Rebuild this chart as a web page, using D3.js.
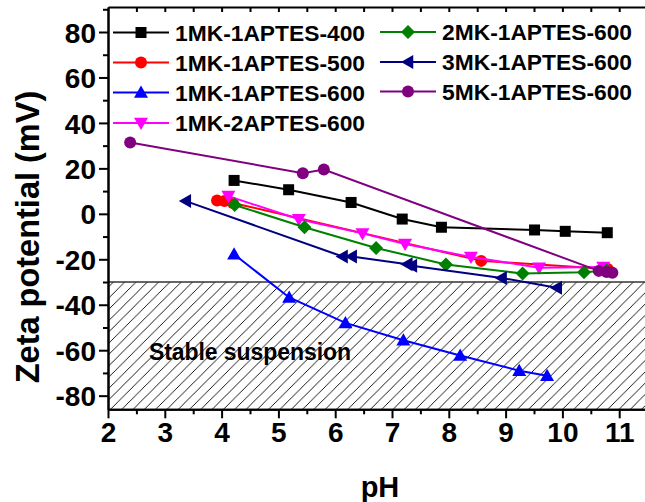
<!DOCTYPE html>
<html><head><meta charset="utf-8">
<script src="https://cdn.jsdelivr.net/npm/d3@7"></script>
<style>body{margin:0;background:#fff}svg{display:block;font-family:"Liberation Sans",Arial,sans-serif;font-weight:bold}</style>
</head><body>
<svg id="c" width="645" height="502"></svg>
<script>
// ---- data ----
const seriesNames = ["1MK-1APTES-400","1MK-1APTES-500","1MK-1APTES-600","1MK-2APTES-600","2MK-1APTES-600","3MK-1APTES-600","5MK-1APTES-600"];
const s400 = [[4.22,14.7],[5.18,10.6],[6.28,5.0],[7.18,-2.3],[7.87,-5.9],[9.51,-7.1],[10.05,-7.7],[10.79,-8.3]];
const s500 = [[3.92,5.9],[4.05,5.6],[4.2,4.8],[8.57,-20.7],[10.8,-24.3]];
const s600 = [[4.22,-17.8],[5.19,-36.8],[6.18,-48.0],[7.2,-55.6],[8.2,-62.3],[9.24,-69.0],[9.73,-71.2]];
const s2apt = [[4.12,7.8],[5.36,-2.4],[6.48,-8.6],[7.23,-13.3],[8.39,-19.0],[9.59,-23.7],[10.72,-23.4]];
const s2mk = [[4.23,3.9],[5.46,-5.9],[6.72,-15.0],[7.95,-22.3],[9.30,-26.3],[10.38,-25.7],[10.78,-24.9]];
const s3mk = [[3.37,5.6],[6.13,-18.8],[6.29,-18.8],[7.27,-22.2],[7.35,-22.8],[8.93,-28.2],[9.9,-32.5]];
const s5mk = [[2.39,31.4],[5.43,17.9],[5.80,19.5],[10.64,-25.1],[10.78,-25.6],[10.88,-25.9]];
const seriesData = [s400,s500,s600,s2apt,s2mk,s3mk,s5mk];
const seriesColors = ["#000000","#ff0000","#0000ff","#ff00ff","#008000","#000080","#800080"];
const seriesShapes = ["square","circle","up","down","diamond","left","circle"];
const xTicks = [2,3,4,5,6,7,8,9,10,11];
const yTicks = [-80,-60,-40,-20,0,20,40,60,80];
const stableLimit = -30;
const stableLabel = "Stable suspension";
const xTitle = "pH", yTitle = "Zeta potential (mV)";

// ---- layout ----
const svg = d3.select("#c");
const L = 108, R = 676, T = 7, B = 409.3;
const x = d3.scaleLinear().domain([2,12]).range([L,R]);
const y = d3.scaleLinear().domain([-86,91]).range([B,T]);

// hatch pattern
const defs = svg.append("defs");
const pat = defs.append("pattern").attr("id","hatch").attr("patternUnits","userSpaceOnUse")
  .attr("width",11.3).attr("height",11.3);
pat.append("path").attr("d","M-1,12.3 L12.3,-1 M-3,3 L3,-3 M8.3,14.3 L14.3,8.3").attr("stroke","#000").attr("stroke-width",0.9);
svg.append("rect").attr("x",L).attr("y",y(stableLimit)).attr("width",R-L).attr("height",B-y(stableLimit))
  .attr("fill","url(#hatch)");
svg.append("line").attr("x1",L).attr("x2",R).attr("y1",y(stableLimit)).attr("y2",y(stableLimit))
  .attr("stroke","#333").attr("stroke-width",1.5);
svg.append("text").attr("x",149).attr("y",360).attr("font-size",23).attr("fill","#000")
  .attr("textLength",202).text(stableLabel);

// axes
const fmt = d => d < 0 ? "-" + Math.abs(d) : String(d);
const yAx = svg.append("g").attr("transform",`translate(${L},0)`)
  .call(d3.axisLeft(y).tickValues(yTicks).tickSize(9).tickFormat(fmt).tickSizeOuter(0));
const yMinor = svg.append("g").attr("transform",`translate(${L},0)`)
  .call(d3.axisLeft(y).tickValues(d3.range(-70,91,20)).tickSize(5).tickFormat("").tickSizeOuter(0));
const xAx = svg.append("g").attr("transform",`translate(0,${B})`)
  .call(d3.axisBottom(x).tickValues(xTicks).tickSize(9).tickFormat(d3.format("d")).tickSizeOuter(0));
const xMinor = svg.append("g").attr("transform",`translate(0,${B})`)
  .call(d3.axisBottom(x).tickValues(d3.range(2.5,12,1)).tickSize(5).tickFormat("").tickSizeOuter(0));
const xTop = svg.append("g").attr("transform",`translate(0,${T})`)
  .call(d3.axisTop(x).tickValues(d3.range(2.5,12,0.5)).tickSize(-5).tickFormat("").tickSizeOuter(0));
[yAx,yMinor,xAx,xMinor,xTop].forEach(g=>{
  g.selectAll(".domain").attr("stroke","#000").attr("stroke-width",2);
  g.selectAll(".tick line").attr("stroke","#000").attr("stroke-width",2);
});
yAx.selectAll("text").attr("font-size",28).attr("font-family","Liberation Sans, Arial, sans-serif")
  .attr("font-weight","bold").attr("fill","#000").attr("x",-12).attr("dy","0.36em");
xAx.selectAll("text").attr("font-size",28).attr("font-family","Liberation Sans, Arial, sans-serif")
  .attr("font-weight","bold").attr("fill","#000").attr("y",13).attr("dy","0.72em");

svg.append("text").attr("x",380).attr("y",497).attr("text-anchor","middle").attr("font-size",29).text(xTitle);
svg.append("text").attr("transform","translate(39,237) rotate(-90)").attr("text-anchor","middle")
  .attr("font-size",32.5).text(yTitle);

// markers
function marker(g, shape, cx, cy, color, s) {
  s = s || 1;
  if (shape === "square") g.append("rect").attr("x",cx-5.5*s).attr("y",cy-5.5*s).attr("width",11*s).attr("height",11*s).attr("fill",color);
  else if (shape === "circle") g.append("circle").attr("cx",cx).attr("cy",cy).attr("r",6*s).attr("fill",color);
  else {
    let pts;
    const a = 7*s;
    if (shape === "up") pts = [[0,-a],[a,a*0.75],[-a,a*0.75]];
    else if (shape === "down") pts = [[0,a],[a,-a*0.75],[-a,-a*0.75]];
    else if (shape === "left") pts = [[-a,0],[a*0.75,-a],[a*0.75,a]];
    else pts = [[0,-a],[a,0],[0,a],[-a,0]];
    g.append("polygon").attr("points",pts.map(p=>[cx+p[0],cy+p[1]].join(",")).join(" ")).attr("fill",color);
  }
}

const line = d3.line().x(d=>x(d[0])).y(d=>y(d[1]));
seriesData.forEach((data,i)=>{
  const g = svg.append("g");
  g.append("path").datum(data).attr("d",line).attr("fill","none").attr("stroke",seriesColors[i]).attr("stroke-width",2);
  data.forEach(d=>marker(g, seriesShapes[i], x(d[0]), y(d[1]), seriesColors[i]));
});

// legend
const legendPos = [[113,32.5],[113,62.5],[113,92.5],[113,123],[380,32],[380,62],[380,91.5]];
seriesNames.forEach((n,i)=>{
  const [lx,ly] = legendPos[i];
  const g = svg.append("g");
  g.append("line").attr("x1",lx).attr("x2",lx+56).attr("y1",ly).attr("y2",ly).attr("stroke",seriesColors[i]).attr("stroke-width",2);
  marker(g, seriesShapes[i], lx+28, ly, seriesColors[i]);
  g.append("text").attr("x",lx+62).attr("y",ly+8).attr("font-size",22.8).attr("fill","#000").text(n);
});
</script>
</body></html>
